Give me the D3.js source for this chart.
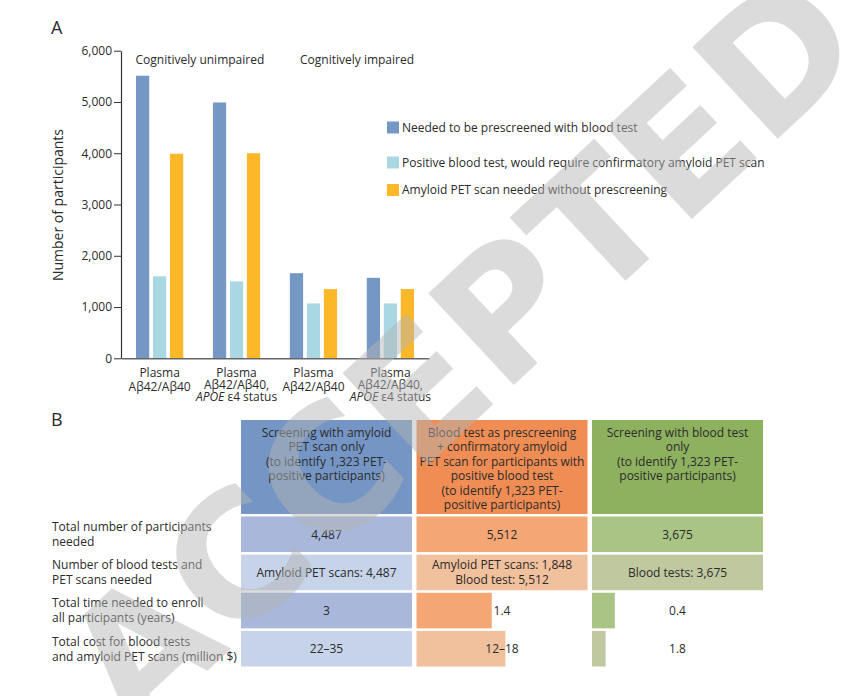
<!DOCTYPE html>
<html>
<head>
<meta charset="utf-8">
<script src="https://cdn.jsdelivr.net/npm/d3@7"></script>
<style>
  html, body { margin: 0; padding: 0; background: #fff; }
  svg { display: block; font-family: "Open Sans", "Noto Sans", sans-serif; }
</style>
</head>
<body>
<svg id="chart" width="847" height="696"></svg>
<script>
// ---------- Panel A data ----------
const groups = ["g1", "g2", "g3", "g4"];
const groupLabels = [
  [{t: "Plasma"}, {t: "Aβ42/Aβ40"}],
  [{t: "Plasma"}, {t: "Aβ42/Aβ40,"}, {t: "APOE", i: true, rest: " ε4 status"}],
  [{t: "Plasma"}, {t: "Aβ42/Aβ40"}],
  [{t: "Plasma"}, {t: "Aβ42/Aβ40,"}, {t: "APOE", i: true, rest: " ε4 status"}]
];
const cohortLabels = ["Cognitively unimpaired", "Cognitively impaired"];
const seriesNames = [
  "Needed to be prescreened with blood test",
  "Positive blood test, would require confirmatory amyloid PET scan",
  "Amyloid PET scan needed without prescreening"
];
const prescreened = [5512, 4990, 1660, 1570];
const positiveBlood = [1600, 1500, 1070, 1070];
const petWithout = [3990, 4000, 1350, 1350];
const yTicks = [0, 1000, 2000, 3000, 4000, 5000, 6000];

// ---------- Panel B data ----------
const columnHeaders = [
  ["Screening with amyloid", "PET scan only", "(to identify 1,323 PET-", "positive participants)"],
  ["Blood test as prescreening", "+ confirmatory amyloid", "PET scan for participants with", "positive blood test", "(to identify 1,323 PET-", "positive participants)"],
  ["Screening with blood test", "only", "(to identify 1,323 PET-", "positive participants)"]
];
const rowLabels = [
  ["Total number of participants", "needed"],
  ["Number of blood tests and", "PET scans needed"],
  ["Total time needed to enroll", "all participants (years)"],
  ["Total cost for blood tests", "and amyloid PET scans (million $)"]
];
const participantsText = ["4,487", "5,512", "3,675"];
const testsText = [["Amyloid PET scans: 4,487"], ["Amyloid PET scans: 1,848", "Blood test: 5,512"], ["Blood tests: 3,675"]];
const timeText = ["3", "1.4", "0.4"];
const costText = ["22–35", "12–18", "1.8"];
// bar lengths as drawn in the figure
const timeBar = [3, 1.32, 0.4];
const costBar = [35, 18.2, 2.8];

// ---------- styles ----------
const seriesColors = ["#7597c4", "#a9d8e3", "#fcb829"];
const headColors = ["#7596c5", "#f08d54", "#8eb15f"];
const darkColors = ["#a8b7da", "#f4a674", "#a9c484"];
const lightColors = ["#c6d3e8", "#f1c09c", "#bfc89f"];
const txt = "#2b2b2b";

const svg = d3.select("#chart");

// ================= Panel A =================
svg.append("text").attr("x", 51).attr("y", 34).attr("font-size", 18).attr("fill", txt).text("A");

const y = d3.scaleLinear().domain([0, 6000]).range([358.3, 50.7]);
const x0 = d3.scaleBand().domain(groups).range([121, 429]).paddingInner(0.386).paddingOuter(0.195);
const x1 = d3.scaleBand().domain([0, 1, 2]).range([0, x0.bandwidth()]).paddingInner(0.22).paddingOuter(0);

const series = [prescreened, positiveBlood, petWithout];
const gBars = svg.append("g");
groups.forEach((g, gi) => {
  series.forEach((s, si) => {
    gBars.append("rect")
      .attr("x", x0(g) + x1(si))
      .attr("y", y(s[gi]))
      .attr("width", x1.bandwidth())
      .attr("height", y(0) - y(s[gi]))
      .attr("fill", seriesColors[si]);
  });
});

// y axis
const yAxis = svg.append("g").attr("transform", "translate(121,0)")
  .call(d3.axisLeft(y).tickValues(yTicks).tickFormat(d3.format(",")).tickSize(7).tickSizeOuter(0).tickPadding(2));
yAxis.select(".domain").attr("stroke", "#333").attr("stroke-width", 1.2);
yAxis.selectAll(".tick line").attr("stroke", "#333");
yAxis.selectAll(".tick text").attr("font-size", 12).attr("fill", txt).attr("font-family", "Open Sans");

// x axis
const xAxis = svg.append("g").attr("transform", `translate(0,${y(0)})`)
  .call(d3.axisBottom(x0).tickSize(0).tickSizeOuter(0).tickFormat(""));
xAxis.select(".domain").attr("stroke", "#666").attr("stroke-width", 1.6);

// x labels
groups.forEach((g, gi) => {
  const cx = x0(g) + x0.bandwidth() / 2;
  const lines = groupLabels[gi];
  const lh = lines.length === 3 ? 12 : 13.5;
  lines.forEach((ln, li) => {
    const t = svg.append("text").attr("x", cx).attr("y", 377 + li * lh)
      .attr("text-anchor", "middle").attr("font-size", 12).attr("fill", txt);
    if (ln.i) {
      t.append("tspan").attr("font-style", "italic").text(ln.t);
      t.append("tspan").text(ln.rest);
    } else {
      t.text(ln.t);
    }
  });
});

// cohort labels
svg.append("text").attr("x", 135.5).attr("y", 64).attr("font-size", 12).attr("fill", txt).text(cohortLabels[0]);
svg.append("text").attr("x", 300).attr("y", 64).attr("font-size", 12).attr("fill", txt).text(cohortLabels[1]);

// y title
svg.append("text").attr("transform", "translate(63,205) rotate(-90)")
  .attr("text-anchor", "middle").attr("font-size", 14).attr("fill", txt).text("Number of participants");

// legend
const legendY = [127.5, 162.5, 190];
seriesNames.forEach((n, i) => {
  svg.append("rect").attr("x", 387).attr("y", legendY[i] - 6).attr("width", 12).attr("height", 12).attr("fill", seriesColors[i]);
  svg.append("text").attr("x", 402).attr("y", legendY[i] + 4.3).attr("font-size", 12).attr("fill", txt).text(n);
});

// ================= Panel B =================
svg.append("text").attr("x", 51).attr("y", 426).attr("font-size", 18).attr("fill", txt).text("B");

const cols = [0, 1, 2];
const cx = d3.scaleBand().domain(cols).range([241, 763]).paddingInner(0.0256);
const rows = [0, 1, 2, 3];
const ry = d3.scaleBand().domain(rows).range([516.5, 666.5]).paddingInner(0.067).paddingOuter(0);
const headTop = 420, headBottom = 514;

// headers
cols.forEach(c => {
  svg.append("rect").attr("x", cx(c)).attr("y", headTop).attr("width", cx.bandwidth())
    .attr("height", headBottom - headTop).attr("fill", headColors[c]);
  columnHeaders[c].forEach((ln, li) => {
    svg.append("text").attr("x", cx(c) + cx.bandwidth() / 2).attr("y", headTop + 17 + li * 14.4)
      .attr("text-anchor", "middle").attr("font-size", 12).attr("fill", txt).text(ln);
  });
});

// row labels
rowLabels.forEach((lines, r) => {
  const mid = ry(r) + ry.bandwidth() / 2;
  lines.forEach((ln, li) => {
    svg.append("text").attr("x", 52).attr("y", mid - 7.5 + li * 15 + 4.3)
      .attr("font-size", 12).attr("fill", txt).text(ln);
  });
});

const timeScale = d3.scaleLinear().domain([0, 3]).range([0, cx.bandwidth()]);
const costScale = d3.scaleLinear().domain([0, 35]).range([0, cx.bandwidth()]);

cols.forEach(c => {
  const w = cx.bandwidth();
  const mx = cx(c) + w / 2;
  svg.append("rect").attr("x", cx(c)).attr("y", ry(0)).attr("width", w).attr("height", ry.bandwidth()).attr("fill", darkColors[c]);
  svg.append("rect").attr("x", cx(c)).attr("y", ry(1)).attr("width", w).attr("height", ry.bandwidth()).attr("fill", lightColors[c]);
  svg.append("rect").attr("x", cx(c)).attr("y", ry(2)).attr("width", timeScale(timeBar[c])).attr("height", ry.bandwidth()).attr("fill", darkColors[c]);
  svg.append("rect").attr("x", cx(c)).attr("y", ry(3)).attr("width", costScale(costBar[c])).attr("height", ry.bandwidth()).attr("fill", lightColors[c]);

  const m = r => ry(r) + ry.bandwidth() / 2 + 4.3;
  svg.append("text").attr("x", mx).attr("y", m(0)).attr("text-anchor", "middle").attr("font-size", 12).attr("fill", txt).text(participantsText[c]);
  const tl = testsText[c];
  tl.forEach((ln, li) => {
    svg.append("text").attr("x", mx).attr("y", m(1) + (li - (tl.length - 1) / 2) * 15)
      .attr("text-anchor", "middle").attr("font-size", 12).attr("fill", txt).text(ln);
  });
  svg.append("text").attr("x", mx).attr("y", m(2)).attr("text-anchor", "middle").attr("font-size", 12).attr("fill", txt).text(timeText[c]);
  svg.append("text").attr("x", mx).attr("y", m(3)).attr("text-anchor", "middle").attr("font-size", 12).attr("fill", txt).text(costText[c]);
});

// ================= Watermark =================
svg.append("text")
  .attr("transform", "translate(462,352) rotate(-43)")
  .attr("text-anchor", "middle").attr("dominant-baseline", "central")
  .attr("font-family", "DejaVu Sans").attr("font-weight", "bold")
  .attr("font-size", 172).attr("fill", "#b4b4b4").attr("fill-opacity", 0.48)
  .text("ACCEPTED");
</script>
</body>
</html>
